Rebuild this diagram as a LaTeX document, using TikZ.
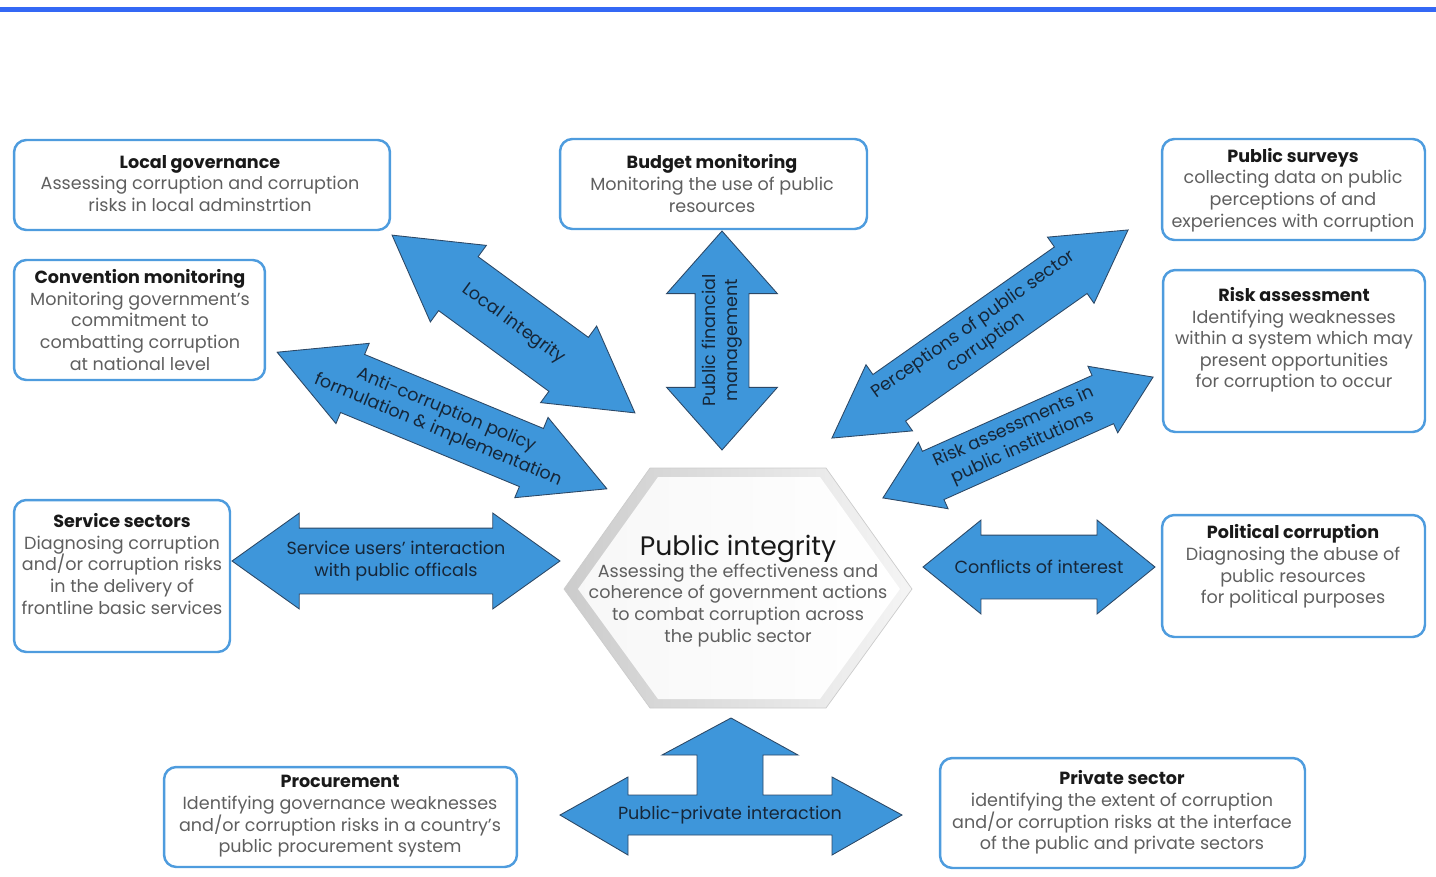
\documentclass[tikz,border=0pt]{standalone}
\usepackage{fontspec}
\setmainfont{Poppins}
\usetikzlibrary{shapes.arrows,positioning}
\definecolor{pirule}{RGB}{52,104,245}
\definecolor{piboxline}{RGB}{78,156,222}
\definecolor{piarrow}{RGB}{62,150,218}
\definecolor{piarrowedge}{RGB}{44,72,102}
\definecolor{pitext}{RGB}{95,95,95}
\definecolor{pihead}{RGB}{25,25,25}
\definecolor{piarrowtext}{RGB}{22,38,56}
\tikzset{
  infobox/.style={draw=piboxline, line width=1.4pt, rounded corners=7pt, fill=white},
  boxtext/.style={align=center, text=pitext, font=\fontsize{10}{12.3}\selectfont, inner sep=0pt},
  twoway/.style={double arrow, draw=piarrowedge, fill=piarrow, line width=0.5pt, inner xsep=0pt},
  arrowtext/.style={align=center, text=piarrowtext, font=\fontsize{10}{12.4}\selectfont, inner sep=0pt},
}
\newcommand{\boxhead}[1]{\textcolor{pihead}{\bfseries #1}}

\begin{document}
\begin{tikzpicture}[x=0.02cm, y=-0.02cm]
\useasboundingbox (0,0) rectangle (1436,876);
% top rule
\draw[pirule, line width=2.3pt] (0,9.5) -- (1436,9.5);

% centre hexagon
\shade[left color=gray!40, right color=gray!8, draw=gray!40]
  (650,468) -- (826,468) -- (912,589) -- (826,708) -- (650,708) -- (564,589) -- cycle;
\shade[left color=gray!6, right color=white]
  (658,477) -- (820,477) -- (900,589) -- (820,699) -- (658,699) -- (578,589) -- cycle;
\node[boxtext] (core) at (738,591)
  {{\fontsize{15.2}{17}\selectfont\color{pihead}Public integrity}\\
   Assessing the effectiveness and\\coherence of government actions\\
   to combat corruption across\\the public sector};

% two-way arrows
\node[twoway, minimum height=6.02cm, inner ysep=0.66cm, double arrow head extend=0.28cm,
  double arrow tip angle=60, rotate=-36.2] (locint) at (513.5,324) {};
\node[arrowtext, rotate=-36.2] (locintlbl) at (locint.center) {Local integrity};

\node[twoway, minimum height=4.38cm, inner ysep=0.53cm, double arrow head extend=0.57cm,
  double arrow tip angle=83, rotate=90] (pfm) at (722,340.5) {};
\node[arrowtext, rotate=90] (pfmlbl) at (pfm.center) {Public financial\\management};

\node[twoway, minimum height=7.24cm, inner ysep=0.56cm, double arrow head extend=0.24cm,
  double arrow tip angle=60, rotate=35.1] (percep) at (980,334) {};
\node[arrowtext, rotate=35.1] (perceplbl) at (percep.center) {Perceptions of public sector\\corruption};

\node[twoway, minimum height=5.92cm, inner ysep=0.52cm, double arrow head extend=0.2cm,
  double arrow tip angle=67, rotate=24.1] (riskinst) at (1018,437.5) {};
\node[arrowtext, rotate=24.1] (riskinstlbl) at (riskinst.center) {Risk assessments in\\public institutions};

\node[twoway, minimum height=7.14cm, inner ysep=0.62cm, double arrow head extend=0.24cm,
  double arrow tip angle=56, rotate=-22.5] (policy) at (442,420.5) {};
\node[arrowtext, rotate=-22.5] (policylbl) at (policy.center) {Anti-corruption policy\\formulation \& implementation};

\node[twoway, minimum height=6.56cm, inner ysep=0.65cm, double arrow head extend=0.3cm,
  double arrow tip angle=71] (users) at (396,561) {};
\node[arrowtext] (userslbl) at (users.center) {Service users' interaction\\with public officals};

\node[twoway, minimum height=4.64cm, inner ysep=0.63cm, double arrow head extend=0.3cm,
  double arrow tip angle=78] (conflict) at (1039,567) {};
\node[arrowtext] (conflictlbl) at (conflict.center) {Conflicts of interest};

% three-way arrow
\filldraw[fill=piarrow, draw=piarrowedge, line width=0.5pt]
  (560,815) -- (628,777) -- (628,795) -- (697,795) -- (697,755) -- (662,755) -- (731,718)
  -- (798,755) -- (763,755) -- (763,795) -- (832,795) -- (832,777) -- (902,815)
  -- (832,855) -- (832,835) -- (628,835) -- (628,855) -- cycle;
\node[arrowtext] (pplbl) at (730,815) {Public-private interaction};

% boxes
\node[infobox, minimum width=7.52cm, minimum height=1.8cm] (locgov) at (202,185) {};
\node[boxtext] (locgovtxt) at (200,183.5) {\boxhead{Local governance}\\Assessing corruption and corruption\\risks in local adminstrtion};

\node[infobox, minimum width=6.14cm, minimum height=1.8cm] (budget) at (713.5,184) {};
\node[boxtext] (budgettxt) at (712,183.5) {\boxhead{Budget monitoring}\\Monitoring the use of public\\resources};

\node[infobox, minimum width=5.26cm, minimum height=2.02cm] (survey) at (1293.5,189.5) {};
\node[boxtext] (surveytxt) at (1293,190) {\boxhead{Public surveys}\\collecting data on public\\perceptions of and\\experiences with corruption};

\node[infobox, minimum width=5.02cm, minimum height=2.4cm] (convent) at (139.5,320) {};
\node[boxtext] (conventtxt) at (140,320) {\boxhead{Convention monitoring}\\Monitoring government's\\commitment to\\combatting corruption\\at national level};

\node[infobox, minimum width=5.24cm, minimum height=3.24cm] (riskass) at (1294,351) {};
\node[boxtext] (riskasstxt) at (1294,340) {\boxhead{Risk assessment}\\Identifying weaknesses\\within a system which may\\present opportunities\\for corruption to occur};

\node[infobox, minimum width=4.32cm, minimum height=3.04cm] (service) at (122,576) {};
\node[boxtext] (servicetxt) at (122,564) {\boxhead{Service sectors}\\Diagnosing corruption\\and/or corruption risks\\in the delivery of\\frontline basic services};

\node[infobox, minimum width=5.26cm, minimum height=2.44cm] (politic) at (1293.5,576) {};
\node[boxtext] (politictxt) at (1293,566.5) {\boxhead{Political corruption}\\Diagnosing the abuse of\\public resources\\for political purposes};

\node[infobox, minimum width=7.06cm, minimum height=2.0cm] (procure) at (340.5,817) {};
\node[boxtext] (procuretxt) at (340,816.5) {\boxhead{Procurement}\\Identifying governance weaknesses\\and/or corruption risks in a country's\\public procurement system};

\node[infobox, minimum width=7.3cm, minimum height=2.2cm] (private) at (1122.5,813) {};
\node[boxtext] (privatetxt) at (1122,812.5) {\boxhead{Private sector}\\identifying the extent of corruption\\and/or corruption risks at the interface\\of the public and private sectors};
\end{tikzpicture}
\end{document}
